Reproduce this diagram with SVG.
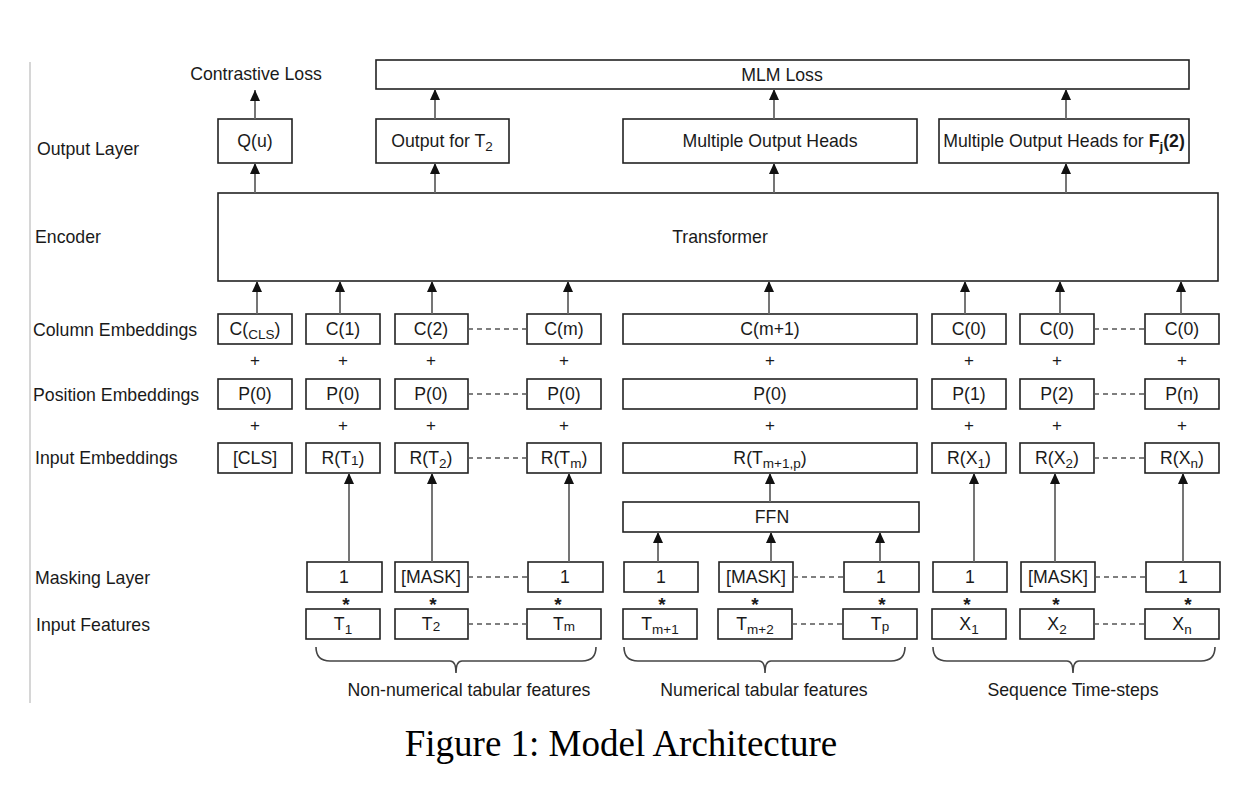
<svg xmlns="http://www.w3.org/2000/svg" width="1256" height="806" viewBox="0 0 1256 806">
<style>
  text{font-family:"Liberation Sans",Arial,sans-serif;font-size:17.7px;fill:#1a1a1a}
  .c{text-anchor:middle}
  .s{font-size:13.5px}
  .op{font-size:17px;text-anchor:middle}
  .st{font-size:19px;font-weight:bold;text-anchor:middle}
  rect{fill:#fff;stroke:#222;stroke-width:1.6}
  .ar{stroke:#666;stroke-width:1.8;fill:none;marker-end:url(#ah)}
  .ds{stroke:#555;stroke-width:1.4;stroke-dasharray:5 4;fill:none}
  .br{stroke:#444;stroke-width:1.6;fill:none}
  .cap{font-family:"Liberation Serif","Times New Roman",serif;font-size:37px;fill:#000}
</style>
<defs>
  <marker id="ah" markerUnits="userSpaceOnUse" markerWidth="12" markerHeight="12" refX="11" refY="5" orient="auto">
    <path d="M0,0 L11,5 L0,10 z" fill="#111"/>
  </marker>
</defs>
<rect x="0" y="0" width="1256" height="806" style="fill:#fff;stroke:none"/>
<line x1="30" y1="62" x2="30" y2="703" stroke="#bbb" stroke-width="1.2"/>

<g id="labels">
  <text x="37" y="155">Output Layer</text>
  <text x="35" y="243">Encoder</text>
  <text x="33" y="336">Column Embeddings</text>
  <text x="33" y="401">Position Embeddings</text>
  <text x="35" y="464">Input Embeddings</text>
  <text x="35" y="584">Masking Layer</text>
  <text x="36" y="631">Input Features</text>
  <text class="c" x="256" y="80">Contrastive Loss</text>
</g>

<g id="mlm-loss"><rect x="376" y="60" width="813" height="29"/><text class="c" x="782" y="81">MLM Loss</text></g>
<g id="qu"><rect x="218" y="119" width="74" height="44"/><text class="c" x="255" y="147">Q(u)</text></g>
<g id="out-t2"><rect x="376" y="119" width="133" height="44"/><text class="c" x="442" y="147">Output for T<tspan class="s" dy="4">2</tspan></text></g>
<g id="moh"><rect x="623" y="119" width="294" height="44"/><text class="c" x="770" y="147">Multiple Output Heads</text></g>
<g id="moh-f"><rect x="939" y="119" width="250" height="44"/><text class="c" x="1064" y="147">Multiple Output Heads for <tspan font-weight="bold">F</tspan><tspan class="s" font-weight="bold" dy="4">j</tspan><tspan font-weight="bold" dy="-4">(2)</tspan></text></g>
<g id="transformer"><rect x="218" y="193" width="1000" height="88"/><text class="c" x="720" y="243">Transformer</text></g>

<g id="col-emb">
  <rect x="218" y="314" width="74" height="30"/><text class="c" x="255" y="335">C(<tspan class="s" dy="4">CLS</tspan><tspan dy="-4">)</tspan></text>
  <rect x="306" y="314" width="74" height="30"/><text class="c" x="343" y="335">C(1)</text>
  <rect x="395" y="314" width="73" height="30"/><text class="c" x="431" y="335">C(2)</text>
  <rect x="527" y="314" width="74" height="30"/><text class="c" x="564" y="335">C(m)</text>
  <rect x="623" y="314" width="294" height="30"/><text class="c" x="770" y="335">C(m+1)</text>
  <rect x="932" y="314" width="74" height="30"/><text class="c" x="969" y="335">C(0)</text>
  <rect x="1020" y="314" width="74" height="30"/><text class="c" x="1057" y="335">C(0)</text>
  <rect x="1145" y="314" width="74" height="30"/><text class="c" x="1182" y="335">C(0)</text>
</g>
<g id="pos-emb">
  <rect x="218" y="379" width="74" height="30"/><text class="c" x="255" y="400">P(0)</text>
  <rect x="306" y="379" width="74" height="30"/><text class="c" x="343" y="400">P(0)</text>
  <rect x="395" y="379" width="73" height="30"/><text class="c" x="431" y="400">P(0)</text>
  <rect x="527" y="379" width="74" height="30"/><text class="c" x="564" y="400">P(0)</text>
  <rect x="623" y="379" width="294" height="30"/><text class="c" x="770" y="400">P(0)</text>
  <rect x="932" y="379" width="74" height="30"/><text class="c" x="969" y="400">P(1)</text>
  <rect x="1020" y="379" width="74" height="30"/><text class="c" x="1057" y="400">P(2)</text>
  <rect x="1145" y="379" width="74" height="30"/><text class="c" x="1182" y="400">P(n)</text>
</g>
<g id="in-emb">
  <rect x="218" y="443" width="74" height="30"/><text class="c" x="255" y="464">[CLS]</text>
  <rect x="306" y="443" width="74" height="30"/><text class="c" x="343" y="464">R(T<tspan class="s" dy="1">1</tspan><tspan dy="-1">)</tspan></text>
  <rect x="395" y="443" width="73" height="30"/><text class="c" x="431" y="464">R(T<tspan class="s" dy="4">2</tspan><tspan dy="-4">)</tspan></text>
  <rect x="527" y="443" width="74" height="30"/><text class="c" x="564" y="464">R(T<tspan class="s" dy="4">m</tspan><tspan dy="-4">)</tspan></text>
  <rect x="623" y="443" width="294" height="30"/><text class="c" x="770" y="464">R(T<tspan class="s" dy="4">m+1,p</tspan><tspan dy="-4">)</tspan></text>
  <rect x="932" y="443" width="74" height="30"/><text class="c" x="969" y="464">R(X<tspan class="s" dy="4">1</tspan><tspan dy="-4">)</tspan></text>
  <rect x="1020" y="443" width="74" height="30"/><text class="c" x="1057" y="464">R(X<tspan class="s" dy="4">2</tspan><tspan dy="-4">)</tspan></text>
  <rect x="1145" y="443" width="74" height="30"/><text class="c" x="1182" y="464">R(X<tspan class="s" dy="4">n</tspan><tspan dy="-4">)</tspan></text>
</g>
<g id="ffn"><rect x="623" y="502" width="296" height="30"/><text class="c" x="772" y="523">FFN</text></g>
<g id="mask">
  <rect x="307" y="562" width="75" height="30"/><text class="c" x="344" y="583">1</text>
  <rect x="395" y="562" width="73" height="30"/><text class="c" x="431" y="583">[MASK]</text>
  <rect x="528" y="562" width="75" height="30"/><text class="c" x="565" y="583">1</text>
  <rect x="624" y="562" width="74" height="30"/><text class="c" x="661" y="583">1</text>
  <rect x="719" y="562" width="74" height="30"/><text class="c" x="756" y="583">[MASK]</text>
  <rect x="844" y="562" width="75" height="30"/><text class="c" x="881" y="583">1</text>
  <rect x="933" y="562" width="74" height="30"/><text class="c" x="970" y="583">1</text>
  <rect x="1021" y="562" width="74" height="30"/><text class="c" x="1058" y="583">[MASK]</text>
  <rect x="1146" y="562" width="74" height="30"/><text class="c" x="1183" y="583">1</text>
</g>
<g id="features">
  <rect x="306" y="609" width="74" height="30"/><text class="c" x="343" y="630">T<tspan class="s" dy="4">1</tspan></text>
  <rect x="395" y="609" width="73" height="30"/><text class="c" x="431" y="630">T<tspan class="s" dy="1">2</tspan></text>
  <rect x="527" y="609" width="74" height="30"/><text class="c" x="564" y="630">T<tspan class="s" dy="1">m</tspan></text>
  <rect x="623" y="609" width="74" height="30"/><text class="c" x="660" y="630">T<tspan class="s" dy="4">m+1</tspan></text>
  <rect x="718" y="609" width="74" height="30"/><text class="c" x="755" y="630">T<tspan class="s" dy="4">m+2</tspan></text>
  <rect x="843" y="609" width="74" height="30"/><text class="c" x="880" y="630">T<tspan class="s" dy="1">p</tspan></text>
  <rect x="932" y="609" width="74" height="30"/><text class="c" x="969" y="630">X<tspan class="s" dy="4">1</tspan></text>
  <rect x="1020" y="609" width="74" height="30"/><text class="c" x="1057" y="630">X<tspan class="s" dy="4">2</tspan></text>
  <rect x="1145" y="609" width="74" height="30"/><text class="c" x="1182" y="630">X<tspan class="s" dy="4">n</tspan></text>
</g>

<g id="operators">
  <text class="op" x="255" y="366">+</text><text class="op" x="343" y="366">+</text><text class="op" x="431" y="366">+</text><text class="op" x="564" y="366">+</text><text class="op" x="770" y="366">+</text><text class="op" x="969" y="366">+</text><text class="op" x="1057" y="366">+</text><text class="op" x="1182" y="366">+</text>
  <text class="op" x="255" y="431">+</text><text class="op" x="343" y="431">+</text><text class="op" x="431" y="431">+</text><text class="op" x="564" y="431">+</text><text class="op" x="770" y="431">+</text><text class="op" x="969" y="431">+</text><text class="op" x="1057" y="431">+</text><text class="op" x="1182" y="431">+</text>
  <text class="st" x="346" y="611">*</text><text class="st" x="433" y="611">*</text><text class="st" x="558" y="611">*</text><text class="st" x="662" y="611">*</text><text class="st" x="755" y="611">*</text><text class="st" x="882" y="611">*</text><text class="st" x="967" y="611">*</text><text class="st" x="1056" y="611">*</text><text class="st" x="1188" y="611">*</text>
</g>

<g id="connectors">
  <line class="ar" x1="255" y1="119" x2="255" y2="90"/>
  <line class="ar" x1="255" y1="193" x2="255" y2="163"/>
  <line class="ar" x1="435" y1="119" x2="435" y2="89"/>
  <line class="ar" x1="435" y1="193" x2="435" y2="163"/>
  <line class="ar" x1="774" y1="119" x2="774" y2="89"/>
  <line class="ar" x1="774" y1="193" x2="774" y2="163"/>
  <line class="ar" x1="1066" y1="119" x2="1066" y2="89"/>
  <line class="ar" x1="1066" y1="193" x2="1066" y2="163"/>

  <line class="ar" x1="257" y1="314" x2="257" y2="281"/>
  <line class="ar" x1="340" y1="314" x2="340" y2="281"/>
  <line class="ar" x1="432" y1="314" x2="432" y2="281"/>
  <line class="ar" x1="568" y1="314" x2="568" y2="281"/>
  <line class="ar" x1="769" y1="314" x2="769" y2="281"/>
  <line class="ar" x1="965" y1="314" x2="965" y2="281"/>
  <line class="ar" x1="1060" y1="314" x2="1060" y2="281"/>
  <line class="ar" x1="1181" y1="314" x2="1181" y2="281"/>

  <line class="ar" x1="349" y1="562" x2="349" y2="473"/>
  <line class="ar" x1="432" y1="562" x2="432" y2="473"/>
  <line class="ar" x1="569" y1="562" x2="569" y2="473"/>
  <line class="ar" x1="974" y1="562" x2="974" y2="473"/>
  <line class="ar" x1="1055" y1="562" x2="1055" y2="473"/>
  <line class="ar" x1="1183" y1="562" x2="1183" y2="473"/>

  <line class="ar" x1="770" y1="502" x2="770" y2="473"/>
  <line class="ar" x1="658" y1="562" x2="658" y2="532"/>
  <line class="ar" x1="771" y1="562" x2="771" y2="532"/>
  <line class="ar" x1="880" y1="562" x2="880" y2="532"/>

  <line class="ds" x1="468" y1="329" x2="527" y2="329"/>
  <line class="ds" x1="468" y1="394" x2="527" y2="394"/>
  <line class="ds" x1="468" y1="458" x2="527" y2="458"/>
  <line class="ds" x1="468" y1="577" x2="528" y2="577"/>
  <line class="ds" x1="468" y1="624" x2="527" y2="624"/>
  <line class="ds" x1="793" y1="577" x2="844" y2="577"/>
  <line class="ds" x1="792" y1="624" x2="843" y2="624"/>
  <line class="ds" x1="1094" y1="329" x2="1145" y2="329"/>
  <line class="ds" x1="1094" y1="394" x2="1145" y2="394"/>
  <line class="ds" x1="1094" y1="458" x2="1145" y2="458"/>
  <line class="ds" x1="1095" y1="577" x2="1146" y2="577"/>
  <line class="ds" x1="1094" y1="624" x2="1145" y2="624"/>

  <path class="br" d="M316,647 Q316,661 330,661 L450,661 Q456,661 456,673 Q456,661 462,661 L582,661 Q596,661 596,647"/>
  <path class="br" d="M624,647 Q624,661 638,661 L759,661 Q765,661 765,673 Q765,661 771,661 L891,661 Q905,661 905,647"/>
  <path class="br" d="M933,647 Q933,661 947,661 L1067,661 Q1073,661 1073,673 Q1073,661 1079,661 L1201,661 Q1215,661 1215,647"/>
</g>

<g id="group-labels">
  <text class="c" x="469" y="696">Non-numerical tabular features</text>
  <text class="c" x="764" y="696">Numerical tabular features</text>
  <text class="c" x="1073" y="696">Sequence Time-steps</text>
</g>
<text class="cap" x="621" y="756" text-anchor="middle">Figure 1: Model Architecture</text>
</svg>
